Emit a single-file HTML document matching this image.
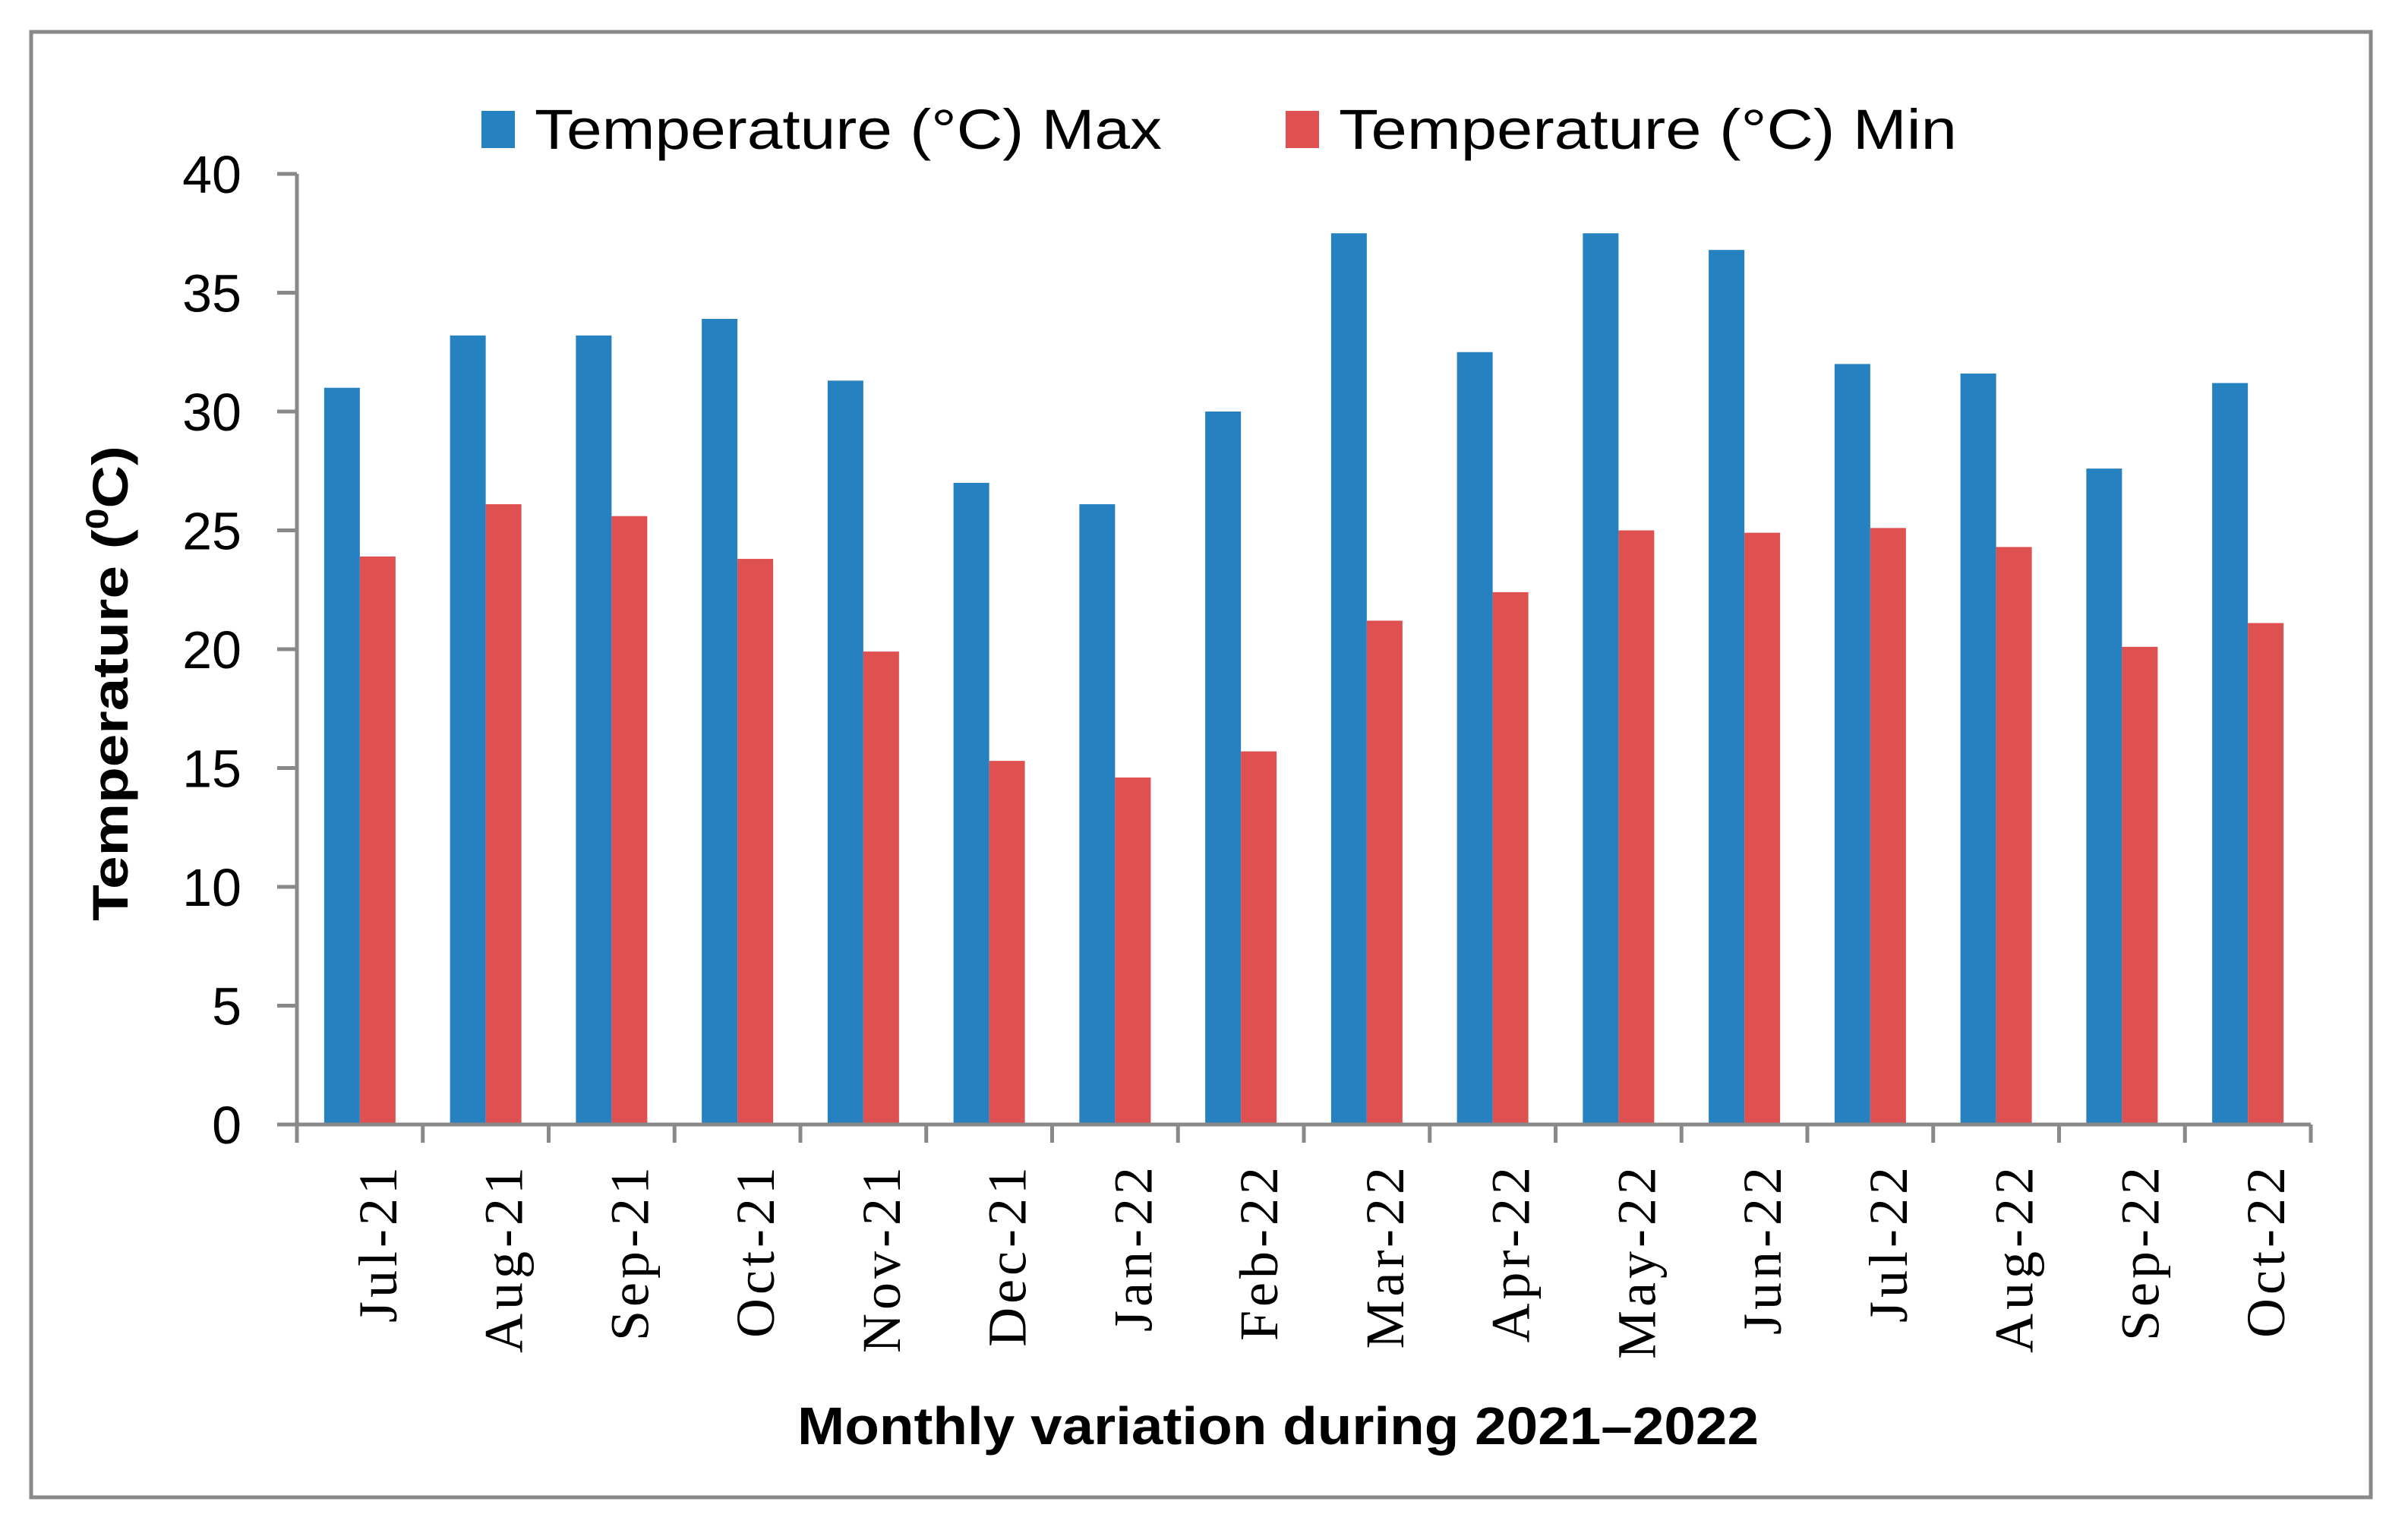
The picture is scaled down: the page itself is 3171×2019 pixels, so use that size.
<!DOCTYPE html>
<html><head><meta charset="utf-8"><style>
html,body{margin:0;padding:0;background:#fff;}
svg{display:block;}
</style></head><body>
<svg id="chart" width="3171" height="2019" viewBox="0 0 3171 2019" xmlns="http://www.w3.org/2000/svg">
<rect x="41" y="42" width="3081" height="1930" fill="#fff" stroke="#898989" stroke-width="5"/>
<g id="bars"></g>
<g id="axes"></g>
<g>
<rect x="634" y="146" width="44" height="49" fill="#2681c0"/>
<text x="704" y="196" font-family="Liberation Sans, sans-serif" font-size="74" textLength="826" lengthAdjust="spacingAndGlyphs">Temperature (°C) Max</text>
<rect x="1693" y="146" width="44" height="49" fill="#df5050"/>
<text x="1763" y="196" font-family="Liberation Sans, sans-serif" font-size="74" textLength="814" lengthAdjust="spacingAndGlyphs">Temperature (°C) Min</text>
</g>
<text transform="translate(168,900) rotate(-90)" text-anchor="middle" font-family="Liberation Sans, sans-serif" font-weight="bold" font-size="66" textLength="626" lengthAdjust="spacingAndGlyphs">Temperature (<tspan font-size="42" dy="-26">0</tspan><tspan dy="26">C)</tspan></text>
<text x="1683" y="1902" text-anchor="middle" font-family="Liberation Sans, sans-serif" font-weight="bold" font-size="70" textLength="1266" lengthAdjust="spacingAndGlyphs">Monthly variation during 2021–2022</text>
</svg>
<script>
const categories = ["Jul-21","Aug-21","Sep-21","Oct-21","Nov-21","Dec-21","Jan-22","Feb-22","Mar-22","Apr-22","May-22","Jun-22","Jul-22","Aug-22","Sep-22","Oct-22"];
const maxTemps = [31.0,33.2,33.2,33.9,31.3,27.0,26.1,30.0,37.5,32.5,37.5,36.8,32.0,31.6,27.6,31.2];
const minTemps = [23.9,26.1,25.6,23.8,19.9,15.3,14.6,15.7,21.2,22.4,25.0,24.9,25.1,24.3,20.1,21.1];
const yTicks = [0,5,10,15,20,25,30,35,40];

const NS = "http://www.w3.org/2000/svg";
const X0 = 391, X1 = 3043, Y0 = 1481, Y40 = 229;
const bw = (X1 - X0) / categories.length;
function yScale(v){ return Y0 - (v / 40) * (Y0 - Y40); }
function xCenter(i){ return X0 + bw * (i + 0.5); }
function mk(tag, attrs, parent){ const e = document.createElementNS(NS, tag); for (const k in attrs) e.setAttribute(k, attrs[k]); parent.appendChild(e); return e; }

const bars = document.getElementById('bars');
const axes = document.getElementById('axes');
const barW = 47;
categories.forEach((c, i) => {
  const cx = xCenter(i);
  const b1 = mk('rect', {x: cx - barW, y: yScale(maxTemps[i]), width: barW, height: Y0 - yScale(maxTemps[i]), fill: '#2681c0'}, bars);
  
  
  const b2 = mk('rect', {x: cx, y: yScale(minTemps[i]), width: barW, height: Y0 - yScale(minTemps[i]), fill: '#df5050'}, bars);
  
  
  const t = mk('text', {transform: 'translate(' + (cx + 48) + ',1532) rotate(-90)', 'text-anchor': 'end', 'font-family': 'Liberation Serif, serif', 'font-size': '72', 'letter-spacing': '5'}, axes);
  t.textContent = c;
  
  
});
const ya = mk('line', {x1: X0, y1: Y40, x2: X0, y2: Y0, stroke: '#898989', 'stroke-width': 5}, axes);


const xa = mk('line', {x1: X0 - 26, y1: Y0, x2: X1, y2: Y0, stroke: '#898989', 'stroke-width': 5}, axes);


for (let i = 0; i <= categories.length; i++) {
  const x = X0 + bw * i;
  const tk = mk('line', {x1: x, y1: Y0, x2: x, y2: Y0 + 24, stroke: '#898989', 'stroke-width': 5}, axes);
  
  
}
yTicks.forEach(v => {
  const y = yScale(v);
  const tk = mk('line', {x1: X0 - 26, y1: y, x2: X0, y2: y, stroke: '#898989', 'stroke-width': 5}, axes);
  
  
  const t = mk('text', {x: 318, y: y + 25, 'text-anchor': 'end', 'font-family': 'Liberation Sans, sans-serif', 'font-size': '70'}, axes);
  t.textContent = v;
  
  
});
</script>
</body></html>
